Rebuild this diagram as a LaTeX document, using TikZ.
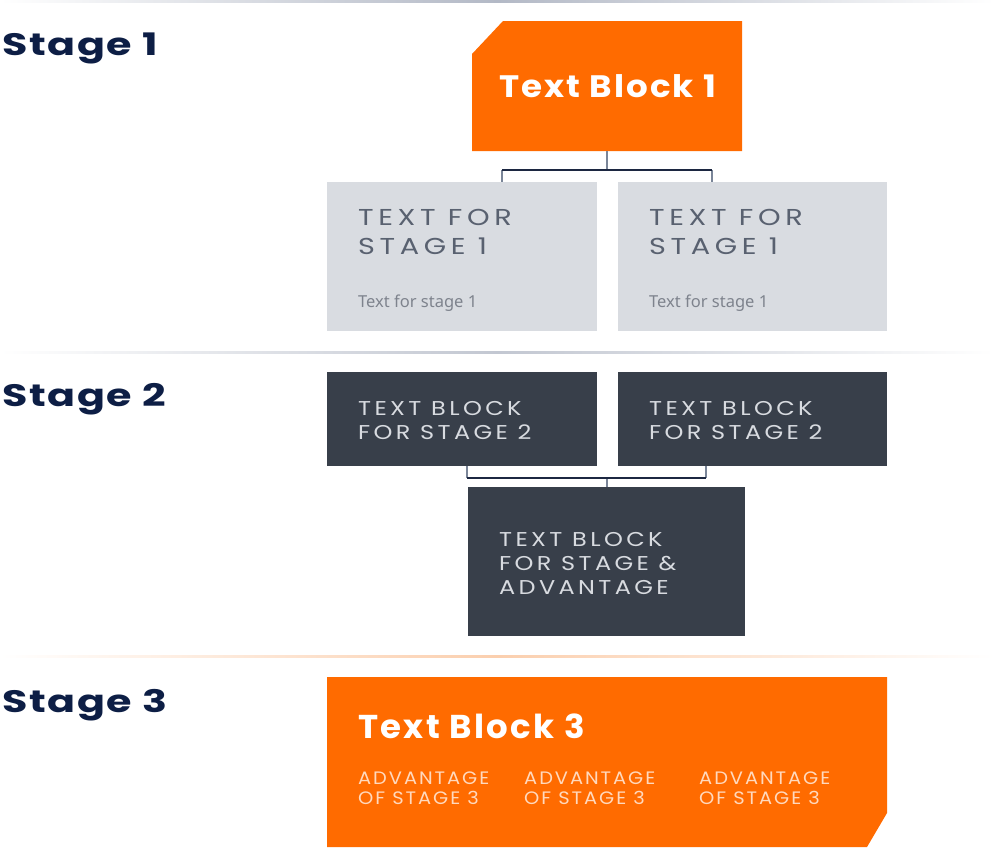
\documentclass[tikz,border=0pt]{standalone}
\usepackage{fontspec}
\usepackage{graphicx}
\setmainfont{Poppins}
\newfontfamily\smallfont{Noto Sans}
\usetikzlibrary{calc}

\definecolor{brandorange}{HTML}{FF6B00}
\definecolor{navy}{HTML}{0D1E45}
\definecolor{lightbox}{HTML}{D9DCE1}
\definecolor{lighttext}{HTML}{596170}
\definecolor{smalltext}{HTML}{7E838D}
\definecolor{darkbox}{HTML}{383F4A}
\definecolor{darktext}{HTML}{D8DBE0}
\definecolor{stemgray}{HTML}{7A8598}
\definecolor{barnavy}{HTML}{1C2741}
\definecolor{advtext}{HTML}{FFD9BE}
\definecolor{sepgray}{HTML}{B3B9C6}
\definecolor{seporange}{HTML}{FBCFAE}

% wide display lettering: horizontally stretched text, single or stacked lines
\newcommand\widetext[2]{\scalebox{#1}[1]{#2}}
\newcommand\widestack[2]{\scalebox{#1}[1]{\begin{tabular}[t]{@{}l@{}}#2\end{tabular}}}

\tikzset{
  box/.style={rectangle, inner sep=0pt, outer sep=0pt, anchor=north west},
  lightblock/.style={box, fill=lightbox},
  darkblock/.style={box, fill=darkbox},
  stagelabel/.style={anchor=base west, inner sep=0pt, text=navy,
    font={\fontsize{31}{36}\selectfont\bfseries\addfontfeature{LetterSpace=4}}},
  bigtitle/.style={anchor=base west, inner sep=0pt, text=white,
    font={\fontsize{31}{36}\selectfont\bfseries\addfontfeature{LetterSpace=6}}},
  capslight/.style={anchor=base west, inner sep=0pt, text=lighttext,
    font={\fontsize{23}{29}\selectfont\addfontfeature{LetterSpace=16}}},
  capsdark/.style={anchor=base west, inner sep=0pt, text=darktext,
    font={\fontsize{20}{24}\selectfont\addfontfeature{LetterSpace=14}}},
  capsadv/.style={anchor=base west, inner sep=0pt, text=advtext,
    font={\fontsize{18}{20}\selectfont\addfontfeature{LetterSpace=10}}},
  smalllabel/.style={anchor=base west, inner sep=0pt, text=smalltext,
    font={\smallfont\fontsize{16.5}{19}\selectfont}},
  stem/.style={draw=stemgray, line width=1.6pt},
  bar/.style={draw=barnavy, line width=1.6pt},
}

\begin{document}
\begin{tikzpicture}[x=1pt,y=-1pt]
\useasboundingbox (0,0) rectangle (994,847);
\fill[white] (0,0) rectangle (994,847);

% separators between the stages
\shade[left color=white, right color=white, middle color=sepgray] (0,0) rectangle (994,2.5);
\shade[left color=white, right color=white, middle color=sepgray!80] (0,351) rectangle (994,353.5);
\shade[left color=white, right color=white, middle color=seporange] (0,655) rectangle (994,657.5);

% stage headings
\node[stagelabel] (st1) at (2,55) {\widetext{1.33}{Stage 1}};
\node[stagelabel] (st2) at (2,406) {\widetext{1.33}{Stage 2}};
\node[stagelabel] (st3) at (2,712) {\widetext{1.33}{Stage 3}};

% ---------- stage 1 ----------
\fill[brandorange] (472,54) -- (503,21) -- (742,21) -- (742,151) -- (472,151) -- cycle;
\node[box, minimum width=270pt, minimum height=130pt] (tb1) at (472,21) {};
\node[bigtitle] (tb1t) at (499,97) {\widetext{1.1}{Text Block 1}};

\node[lightblock, minimum width=270pt, minimum height=149pt] (g1) at (327,182) {};
\node[lightblock, minimum width=269pt, minimum height=149pt] (g2) at (618,182) {};
\node[capslight] (g1t) at (358,225) {\widestack{1.25}{TEXT FOR\\STAGE 1}};
\node[capslight] (g2t) at (649,225) {\widestack{1.25}{TEXT FOR\\STAGE 1}};
\node[smalllabel] (g1s) at (358,307) {Text for stage 1};
\node[smalllabel] (g2s) at (649,307) {Text for stage 1};

\coordinate (j1) at (607,170);
\coordinate (j1l) at (502,170);
\coordinate (j1r) at (712,170);
\coordinate (g1in) at (502,182);
\coordinate (g2in) at (712,182);
\draw[stem] (tb1.south) -- (j1);
\draw[stem] (j1l) -- (g1in);
\draw[stem] (j1r) -- (g2in);
\draw[bar] (j1l) -- (j1r);

% ---------- stage 2 ----------
\node[darkblock, minimum width=270pt, minimum height=94pt] (d1) at (327,372) {};
\node[darkblock, minimum width=269pt, minimum height=94pt] (d2) at (618,372) {};
\node[capsdark] (d1t) at (358,415) {\widestack{1.2}{TEXT BLOCK\\FOR STAGE 2}};
\node[capsdark] (d2t) at (649,415) {\widestack{1.2}{TEXT BLOCK\\FOR STAGE 2}};

\node[darkblock, minimum width=277pt, minimum height=149pt] (d3) at (468,487) {};
\node[capsdark] (d3t) at (499,546) {\widestack{1.2}{TEXT BLOCK\\FOR STAGE \&\\ADVANTAGE}};

\coordinate (d1out) at (467,466);
\coordinate (d2out) at (706,466);
\coordinate (j2l) at (467,478);
\coordinate (j2r) at (706,478);
\coordinate (j2) at (607,478);
\draw[stem] (d1out) -- (j2l);
\draw[stem] (d2out) -- (j2r);
\draw[stem] (j2) -- (d3.north -| j2);
\draw[bar] (j2l) -- (j2r);

% ---------- stage 3 ----------
\fill[brandorange] (327,677) -- (887,677) -- (887,813) -- (867,847) -- (327,847) -- cycle;
\node[box, minimum width=560pt, minimum height=170pt] (tb3) at (327,677) {};
\node[bigtitle, font={\fontsize{33}{38}\selectfont\bfseries\addfontfeature{LetterSpace=7}}] (tb3t) at (358,738) {\widetext{1.03}{Text Block 3}};
\node[capsadv] (a1) at (358,784) {\widestack{1.08}{ADVANTAGE\\OF STAGE 3}};
\node[capsadv] (a2) at (524,784) {\widestack{1.08}{ADVANTAGE\\OF STAGE 3}};
\node[capsadv] (a3) at (699,784) {\widestack{1.08}{ADVANTAGE\\OF STAGE 3}};
\end{tikzpicture}
\end{document}
